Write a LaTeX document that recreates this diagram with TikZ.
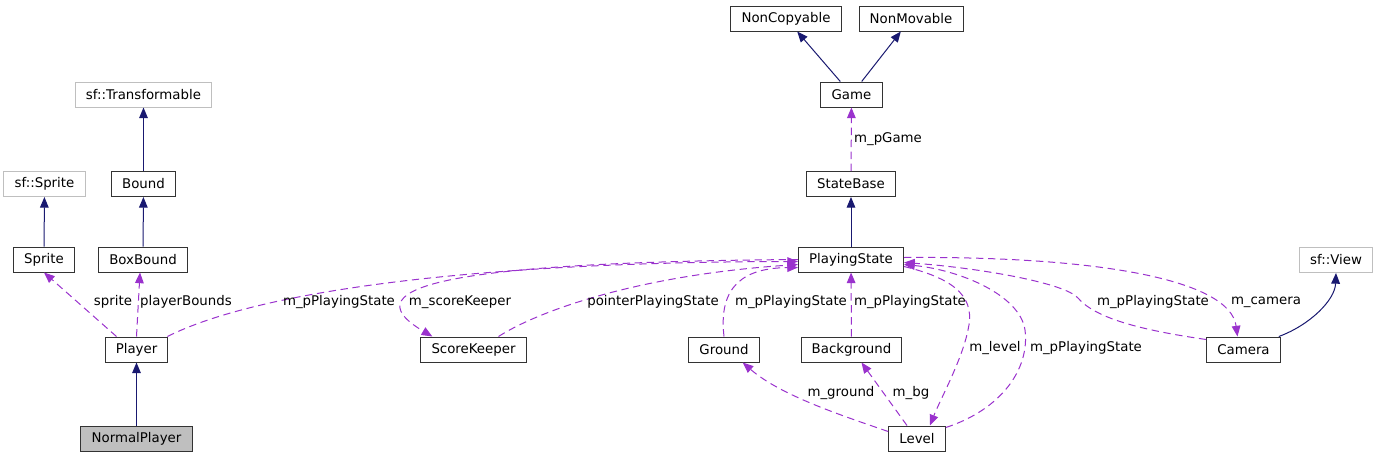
\documentclass[tikz,border=0pt]{standalone}
\usepackage{fontspec}
\setmainfont{DejaVu Sans}
\usetikzlibrary{arrows.meta,calc}
\definecolor{inhblue}{HTML}{191970}
\definecolor{usepurple}{HTML}{9A32CD}
\definecolor{extgray}{HTML}{BFBFBF}
\begin{document}
\begin{tikzpicture}
  [x=0.75pt, y=-0.75pt, font=\fontsize{10}{12}\selectfont,
   cls/.style={rectangle, draw=black!80, line width=0.75pt, inner xsep=8pt, inner ysep=0pt, minimum height=18.75pt},
   ext/.style={cls, draw=extgray},
   inherit/.style={draw=inhblue, line width=0.75pt, -{Triangle[length=8pt,width=6.5pt]}},
   uses/.style={draw=usepurple, line width=0.75pt, dash pattern=on 5.5pt off 3.5pt, -{Triangle[length=8pt,width=6.5pt]}},
   lbl/.style={inner sep=1pt}]

  \useasboundingbox (0,0) rectangle (1379,457);

  % classes
  \node[cls] (noncopyable) at (786,18.5) {NonCopyable};
  \node[cls] (nonmovable) at (911,18.5) {NonMovable};
  \node[cls] (game) at (851.5,94.5) {Game};
  \node[ext] (transformable) at (143.5,94.5) {sf::Transformable};
  \node[cls] (statebase) at (851,184) {StateBase};
  \node[ext] (sfsprite) at (44.5,184) {sf::Sprite};
  \node[cls] (bound) at (143.5,184) {Bound};
  \node[cls] (sprite) at (44,259.5) {Sprite};
  \node[cls] (boxbound) at (143,259.5) {BoxBound};
  \node[cls] (ps) at (851,259.5) {PlayingState};
  \node[ext] (sfview) at (1336,260) {sf::View};
  \node[cls] (player) at (136.5,349.5) {Player};
  \node[cls] (sk) at (473.5,349.5) {ScoreKeeper};
  \node[cls] (ground) at (724,349.5) {Ground};
  \node[cls] (background) at (851.5,349.5) {Background};
  \node[cls] (camera) at (1243.5,349.5) {Camera};
  \node[cls] (level) at (917,438.5) {Level};
  \node[cls, fill=extgray] (normalplayer) at (136.5,438.5) {NormalPlayer};

  % inheritance
  \foreach \from/\to in {game/noncopyable, game/nonmovable, ps/statebase, bound/transformable,
                         boxbound/bound, sprite/sfsprite, normalplayer/player}
    \draw[inherit] (\from) -- (\to);
  \draw[inherit] ($(camera.north east)+(-2,0)$) .. controls (1310,325) and (1335,300) .. (sfview.south);

  % members
  \draw[uses] (statebase) -- (game);
  \draw[uses] ($(player.north)+(-20,0)$) -- (sprite.south);
  \draw[uses] (player.north) -- ($(boxbound.south)+(-3,0)$);
  \draw[uses] ($(player.north east)+(-1,0)$) .. controls (260,290) and (480,262) .. ($(ps.west)+(0,2)$);
  \draw[uses] (ps.west) .. controls (460,262) and (345,285) .. ($(sk.north west)+(12,0)$);
  \draw[uses] ($(sk.north)+(25,0)$) .. controls (540,310) and (640,275) .. ($(ps.west)+(0,5)$);
  \draw[uses] (ground.north) .. controls (718,285) and (745,268) .. ($(ps.west)+(0,8)$);
  \draw[uses] (background) -- (ps);
  \draw[uses] ($(camera.north west)+(0,3)$) .. controls (1140,330) and (1095,318) .. (1078,298)
              .. controls (1065,283) and (980,268) .. ($(ps.east)+(0,3)$);
  \draw[uses] ($(ps.east)+(0,-2)$) .. controls (1100,256) and (1230,280) .. ($(camera.north)+(-6,0)$);
  \draw[uses] ($(ps.east)+(0,7)$) .. controls (960,280) and (975,300) .. (968,330)
              .. controls (962,360) and (940,400) .. ($(level.north)+(13,0)$);
  \draw[uses] ($(level.north east)+(0,2)$) .. controls (1000,410) and (1030,370) .. (1025,330)
              .. controls (1020,295) and (960,270) .. ($(ps.east)+(0,5)$);
  \draw[uses] ($(level.west)+(0,-7)$) .. controls (840,415) and (780,395) .. ($(ground.south east)+(-17,0)$);
  \draw[uses] ($(level.north)+(-10,0)$) -- ($(background.south)+(10,0)$);

  % member names
  \node[lbl] (l-game) at (888,139) {m\_pGame};
  \node[lbl] (l-sprite) at (113,302) {sprite};
  \node[lbl] (l-bounds) at (186,302) {playerBounds};
  \node[lbl] (l-player) at (339,302) {m\_pPlayingState};
  \node[lbl] (l-keeper) at (460,302) {m\_scoreKeeper};
  \node[lbl] (l-pointer) at (653,302) {pointerPlayingState};
  \node[lbl] (l-ground) at (791,302) {m\_pPlayingState};
  \node[lbl] (l-bgstate) at (910,302) {m\_pPlayingState};
  \node[lbl] (l-camstate) at (1153,302) {m\_pPlayingState};
  \node[lbl] (l-camera) at (1266,302) {m\_camera};
  \node[lbl] (l-level) at (995,348) {m\_level};
  \node[lbl] (l-lvstate) at (1086,348) {m\_pPlayingState};
  \node[lbl] (l-mground) at (841,393) {m\_ground};
  \node[lbl] (l-bg) at (911,393) {m\_bg};
\end{tikzpicture}
\end{document}
